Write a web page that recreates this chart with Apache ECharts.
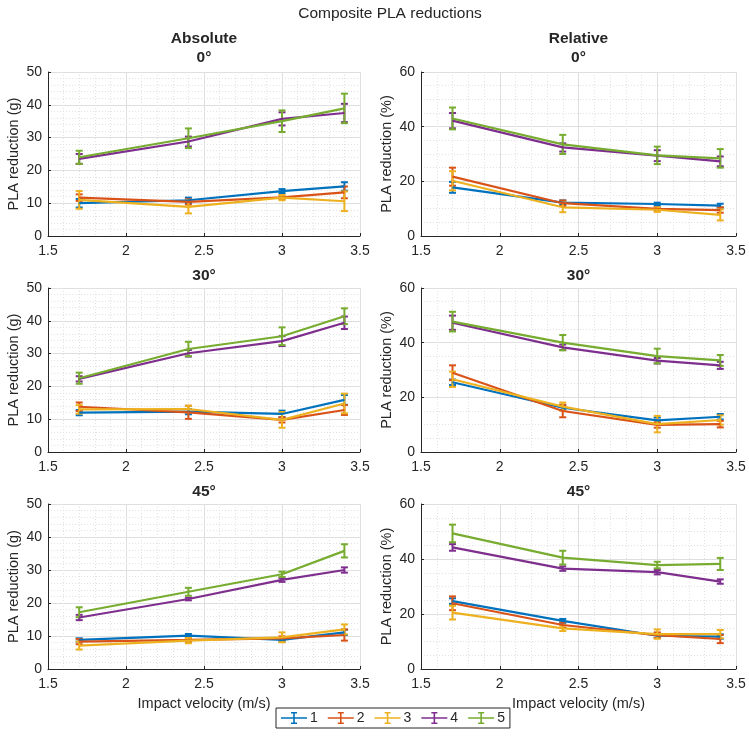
<!DOCTYPE html>
<html>
<head>
<meta charset="utf-8">
<script src="https://cdn.jsdelivr.net/npm/echarts@6/dist/echarts.min.js"></script>
<style>
  html, body { margin: 0; padding: 0; background: #fff; }
  #chart { width: 749px; height: 746px; }
</style>
</head>
<body>
<div id="chart"></div>
<script>
// ---- data ----
const velocity = [1.7, 2.4, 3.0, 3.4];
const seriesNames = ['1', '2', '3', '4', '5'];
const xTicks = [1.5, 2, 2.5, 3, 3.5];
const yTicksAbs = [0, 10, 20, 30, 40, 50];
const yTicksRel = [0, 20, 40, 60];

// Absolute 0°
const abs0Mean = [
  [10.0, 10.9, 13.7, 15.1],
  [11.7, 10.4, 11.8, 13.3],
  [11.0, 8.9, 11.7, 10.6],
  [23.5, 28.8, 35.7, 37.5],
  [24.0, 29.8, 35.0, 38.9]
];
const abs0Err = [
  [1.3, 0.8, 0.6, 1.3],
  [1.0, 0.8, 0.5, 1.8],
  [2.7, 2.0, 0.8, 3.0],
  [1.5, 1.5, 2.0, 2.8],
  [2.0, 3.0, 3.3, 4.5]
];
// Relative 0°
const rel0Mean = [
  [17.8, 12.2, 11.7, 11.1],
  [21.7, 12.0, 9.9, 9.5],
  [20.2, 10.5, 9.6, 7.7],
  [42.2, 32.4, 29.4, 27.3],
  [43.0, 33.5, 29.5, 28.4]
];
const rel0Err = [
  [2.0, 0.8, 0.5, 0.7],
  [3.3, 1.0, 0.6, 1.0],
  [3.5, 1.8, 0.8, 2.0],
  [2.8, 1.5, 2.0, 1.8],
  [4.0, 3.5, 3.2, 3.4]
];
// Absolute 30°
const abs30Mean = [
  [12.0, 12.3, 11.6, 15.9],
  [13.8, 12.1, 9.8, 12.8],
  [13.0, 13.1, 9.8, 14.8],
  [22.3, 30.1, 33.8, 39.4],
  [22.5, 31.4, 35.3, 41.4]
];
const abs30Err = [
  [0.8, 0.8, 1.0, 1.5],
  [1.3, 2.0, 0.8, 1.5],
  [1.3, 1.0, 2.4, 3.0],
  [0.8, 1.0, 1.5, 1.9],
  [1.7, 2.2, 2.7, 2.4]
];
// Relative 30°
const rel30Mean = [
  [25.5, 16.2, 11.6, 12.9],
  [29.0, 15.0, 9.9, 10.2],
  [26.6, 16.6, 10.2, 11.7],
  [47.3, 38.3, 33.4, 31.7],
  [47.7, 40.0, 35.1, 33.5]
];
const rel30Err = [
  [1.0, 0.8, 1.0, 1.0],
  [2.7, 2.3, 1.0, 1.2],
  [2.8, 1.5, 3.0, 1.7],
  [2.6, 1.0, 1.0, 1.3],
  [3.6, 2.8, 2.7, 2.0]
];
// Absolute 45°
const abs45Mean = [
  [8.8, 10.1, 8.8, 11.1],
  [8.3, 8.8, 9.3, 10.3],
  [7.1, 8.6, 9.6, 12.0],
  [15.6, 21.2, 27.0, 30.0],
  [17.2, 23.4, 28.7, 35.8]
];
const abs45Err = [
  [0.5, 0.5, 0.5, 0.8],
  [0.8, 0.6, 0.6, 1.7],
  [1.2, 0.8, 1.5, 1.5],
  [0.8, 0.4, 0.6, 0.8],
  [1.5, 1.2, 0.8, 2.0]
];
// Relative 45°
const rel45Mean = [
  [24.7, 17.5, 12.1, 11.8],
  [23.9, 16.0, 12.3, 10.9],
  [20.5, 14.8, 12.7, 12.7],
  [44.2, 36.5, 35.2, 31.8],
  [49.3, 40.5, 37.8, 38.2]
];
const rel45Err = [
  [1.0, 0.7, 0.8, 0.8],
  [2.5, 1.0, 1.0, 1.5],
  [2.5, 1.0, 1.7, 1.5],
  [1.2, 0.8, 0.8, 0.8],
  [3.2, 2.5, 1.2, 2.2]
];

// ---- style ----
const colors = ['#0072BD', '#D95319', '#EDB120', '#7E2F8E', '#77AC30'];
const FONT = '"Liberation Sans", Arial, Helvetica, sans-serif';
const TXT = '#262626';

const panels = [
  { mean: abs0Mean, err: abs0Err, ticks: yTicksAbs, yName: 'PLA reduction (g)', col: 0, row: 0, xName: false },
  { mean: rel0Mean, err: rel0Err, ticks: yTicksRel, yName: 'PLA reduction (%)', col: 1, row: 0, xName: false },
  { mean: abs30Mean, err: abs30Err, ticks: yTicksAbs, yName: 'PLA reduction (g)', col: 0, row: 1, xName: false },
  { mean: rel30Mean, err: rel30Err, ticks: yTicksRel, yName: 'PLA reduction (%)', col: 1, row: 1, xName: false },
  { mean: abs45Mean, err: abs45Err, ticks: yTicksAbs, yName: 'PLA reduction (g)', col: 0, row: 2, xName: true },
  { mean: rel45Mean, err: rel45Err, ticks: yTicksRel, yName: 'PLA reduction (%)', col: 1, row: 2, xName: true }
];

const colLeft = [48, 421];
const colWidth = [312, 315];
const rowTop = [72, 288, 504];
const rowHeight = [164, 164, 165];

const grids = [], xAxes = [], yAxes = [], series = [];

panels.forEach((p, gi) => {
  grids.push({ left: colLeft[p.col], top: rowTop[p.row], width: colWidth[p.col], height: rowHeight[p.row] });
  xAxes.push({
    type: 'value', gridIndex: gi,
    min: xTicks[0], max: xTicks[xTicks.length - 1], interval: xTicks[1] - xTicks[0],
    name: p.xName ? 'Impact velocity (m/s)' : '',
    nameLocation: 'middle', nameGap: 27,
    nameTextStyle: { fontFamily: FONT, fontSize: 14.5, color: TXT },
    axisLine: { show: true, onZero: false, lineStyle: { color: TXT, width: 1 } },
    axisTick: { show: true, inside: true, length: 3, lineStyle: { color: TXT } },
    axisLabel: { fontFamily: FONT, fontSize: 14, color: TXT, margin: 8 },
    splitLine: { show: true, lineStyle: { color: '#dfdfdf', width: 1 } },
    minorTick: { show: false, splitNumber: 5 },
    minorSplitLine: { show: true, lineStyle: { color: '#e2e2e2', width: 1, type: [1, 2] } }
  });
  const t = p.ticks;
  yAxes.push({
    type: 'value', gridIndex: gi,
    min: t[0], max: t[t.length - 1], interval: t[1] - t[0],
    name: p.yName, nameLocation: 'middle', nameGap: 27, nameRotate: 90,
    nameTextStyle: { fontFamily: FONT, fontSize: 14.5, color: TXT },
    axisLine: { show: true, onZero: false, lineStyle: { color: TXT, width: 1 } },
    axisTick: { show: true, inside: true, length: 3, lineStyle: { color: TXT } },
    axisLabel: { fontFamily: FONT, fontSize: 14, color: TXT, margin: 6 },
    splitLine: { show: true, lineStyle: { color: '#dfdfdf', width: 1 } },
    minorTick: { show: false, splitNumber: t === yTicksAbs ? 5 : 4 },
    minorSplitLine: { show: true, lineStyle: { color: '#e2e2e2', width: 1, type: [1, 2] } }
  });
  seriesNames.forEach((nm, si) => {
    const c = colors[si];
    series.push({
      name: nm, type: 'line', xAxisIndex: gi, yAxisIndex: gi,
      data: velocity.map((v, i) => [v, p.mean[si][i]]),
      symbol: 'none', lineStyle: { color: c, width: 2.2 }, itemStyle: { color: c },
      emphasis: { disabled: true }, silent: true
    });
    series.push({
      name: nm, type: 'custom', xAxisIndex: gi, yAxisIndex: gi,
      data: velocity.map((v, i) => [v, p.mean[si][i], p.err[si][i]]),
      encode: { x: 0, y: 1 },
      itemStyle: { color: c },
      silent: true,
      renderItem: function (params, api) {
        const x = api.value(0), m = api.value(1), e = api.value(2);
        const top = api.coord([x, m + e]);
        const bot = api.coord([x, m - e]);
        const hw = 3.5;
        const st = { stroke: c, lineWidth: 2 };
        return {
          type: 'group',
          children: [
            { type: 'line', shape: { x1: top[0], y1: top[1], x2: bot[0], y2: bot[1] }, style: st },
            { type: 'line', shape: { x1: top[0] - hw, y1: top[1], x2: top[0] + hw, y2: top[1] }, style: st },
            { type: 'line', shape: { x1: bot[0] - hw, y1: bot[1], x2: bot[0] + hw, y2: bot[1] }, style: st }
          ]
        };
      }
    });
  });
});

function centered(txt, cx, cy, size, weight) {
  return {
    type: 'text', x: cx, y: cy,
    style: { text: txt, fontFamily: FONT, fontSize: size, fontWeight: weight, fill: TXT,
             align: 'center', verticalAlign: 'middle' }
  };
}

const leftC = colLeft[0] + colWidth[0] / 2;
const rightC = colLeft[1] + colWidth[1] / 2;

const graphics = [
  centered('Composite PLA reductions', 390, 14, 15.5, 'normal'),
  centered('Absolute', leftC, 39, 15.5, 'bold'),
  centered('0°', leftC, 58, 15.5, 'bold'),
  centered('Relative', rightC, 39, 15.5, 'bold'),
  centered('0°', rightC, 58, 15.5, 'bold'),
  centered('30°', leftC, 276, 15.5, 'bold'),
  centered('30°', rightC, 276, 15.5, 'bold'),
  centered('45°', leftC, 492, 15.5, 'bold'),
  centered('45°', rightC, 492, 15.5, 'bold')
];

const chart = echarts.init(document.getElementById('chart'), null, { renderer: 'canvas' });
chart.setOption({
  animation: false,
  backgroundColor: '#ffffff',
  color: colors,
  grid: grids,
  xAxis: xAxes,
  yAxis: yAxes,
  series: series,
  graphic: graphics,
  legend: {
    data: seriesNames.map((n, i) => ({ name: n, itemStyle: { color: colors[i] } })),
    left: 276, top: 708,
    orient: 'horizontal',
    icon: 'path://M0,6.2h26v1.6h-26z M12.2,1h1.6v12h-1.6z M10,1h6v1.4h-6z M10,11.6h6v1.4h-6z',
    itemWidth: 26, itemHeight: 14, itemGap: 10,
    padding: [3, 5, 3, 5],
    borderColor: TXT, borderWidth: 1, borderRadius: 0,
    backgroundColor: '#fff',
    selectedMode: false,
    textStyle: { fontFamily: FONT, fontSize: 14, color: TXT, padding: [0, 0, 0, -2] }
  }
});
</script>
</body>
</html>
